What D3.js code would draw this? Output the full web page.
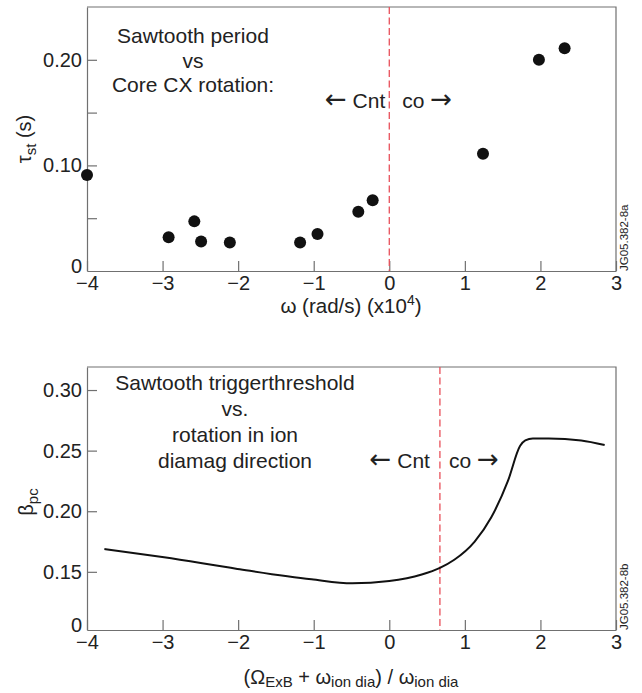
<!DOCTYPE html>
<html>
<head>
<meta charset="utf-8">
<script src="https://cdn.jsdelivr.net/npm/d3@7"></script>
<style>
  body { margin: 0; background: #fff; }
  text { font-family: "Liberation Sans", Arial, sans-serif; fill: #222; }
  .axis path, .axis line { stroke: #707070; stroke-width: 1.2; }
  .axis text { font-size: 20px; fill: #222; }
  .arrow { font-family: "DejaVu Sans", sans-serif; font-size: 26px; }
</style>
</head>
<body>
<div id="chart"></div>
<script>
"use strict";

// sawtooth period vs core CX rotation (top panel)
var omegaValues = [-4.0, -2.92, -2.58, -2.49, -2.11, -1.18, -0.95, -0.41, -0.22, 1.24, 1.98, 2.32];
var periodValues = [0.091, 0.032, 0.047, 0.028, 0.027, 0.027, 0.035, 0.056, 0.067, 0.111, 0.200, 0.211];

// trigger threshold vs normalised rotation (bottom panel)
var rotationValues = [-3.77, -2.98, -2.01, -1.03, -0.49, 0.0, 0.43, 0.67, 0.86, 1.13, 1.35, 1.57, 1.73, 1.80, 1.90, 2.11, 2.54, 2.85];
var betaValues = [0.1688, 0.1620, 0.1524, 0.1438, 0.1405, 0.1424, 0.1478, 0.1533, 0.1600, 0.1750, 0.1950, 0.2250, 0.2538, 0.2584, 0.2600, 0.2600, 0.2584, 0.2546];

var xTicks = [-4, -3, -2, -1, 0, 1, 2, 3];
var topYTicks = [0, 0.05, 0.10, 0.15, 0.20];
var topYLabels = { "0": "0", "0.1": "0.10", "0.2": "0.20" };
var bottomYTicks = [0.15, 0.20, 0.25, 0.30];

var width = 642, height = 693;
var svg = d3.select("#chart").append("svg")
    .attr("width", width)
    .attr("height", height);

var left = 87, right = 616;

// draw the frame, axes and cnt/co marker of one panel
function drawPanel(top, bottom, yDomain, yTicks, yFormat, zeroValue, dashX, tag) {
    var x = d3.scaleLinear().domain([-4, 3]).range([left, right]);
    var y = d3.scaleLinear().domain(yDomain).range([bottom, top]);

    var g = svg.append("g");

    g.append("g")
        .attr("class", "axis")
        .attr("transform", "translate(0," + bottom + ")")
        .call(d3.axisBottom(x).tickValues(xTicks).tickFormat(d3.format("d"))
            .tickSize(-10).tickSizeOuter(0).tickPadding(5));

    var yAxis = g.append("g")
        .attr("class", "axis")
        .attr("transform", "translate(" + left + ",0)")
        .call(d3.axisLeft(y).tickValues(yTicks).tickFormat(yFormat)
            .tickSize(-10).tickSizeOuter(0).tickPadding(5));

    // the "0" label sits a little above the corner
    var zeroTick = yAxis.selectAll(".tick").filter(function (d) { return d === zeroValue; });
    zeroTick.select("text").attr("dy", "0.08em");
    zeroTick.select("line").remove();

    // top and right frame lines
    g.append("path")
        .attr("d", "M" + left + "," + top + "H" + right + "V" + bottom)
        .attr("fill", "none")
        .attr("stroke", "#707070")
        .attr("stroke-width", 1.2);

    // co / counter rotation boundary
    g.append("line")
        .attr("x1", x(dashX)).attr("x2", x(dashX))
        .attr("y1", top).attr("y2", bottom)
        .attr("stroke", "#e8505a")
        .attr("stroke-width", 1.3)
        .attr("stroke-dasharray", "7,3.5");

    g.append("text")
        .attr("transform", "translate(628," + bottom + ") rotate(-90)")
        .style("font-size", "11.5px")
        .text(tag);

    return { x: x, y: y, g: g };
}

function drawDirections(g, xPos, yPos, gapLeft, gapRight) {
    var cnt = g.append("text")
        .attr("x", xPos - gapLeft).attr("y", yPos)
        .attr("text-anchor", "end")
        .style("font-size", "21px");
    cnt.append("tspan").attr("class", "arrow").text("\u2190");
    cnt.append("tspan").text(" Cnt");

    var co = g.append("text")
        .attr("x", xPos + gapRight).attr("y", yPos)
        .style("font-size", "21px");
    co.append("tspan").text("co ");
    co.append("tspan").attr("class", "arrow").text("\u2192");
}

// ---- top panel ----
var topPanel = drawPanel(7, 271, [0, 0.25], topYTicks,
    function (d) { return topYLabels[String(+d.toFixed(2))] || ""; }, 0, 0, "JG05.382-8a");

topPanel.g.append("g")
    .selectAll("circle")
    .data(omegaValues)
    .enter()
    .append("circle")
    .attr("cx", function (d) { return topPanel.x(d); })
    .attr("cy", function (d, i) { return topPanel.y(periodValues[i]); })
    .attr("r", 6)
    .attr("fill", "#111");

var topNote = ["Sawtooth period", "vs", "Core CX rotation:"];
topPanel.g.append("g")
    .selectAll("text")
    .data(topNote)
    .enter()
    .append("text")
    .attr("x", 193)
    .attr("y", function (d, i) { return 43 + i * 24.5; })
    .attr("text-anchor", "middle")
    .style("font-size", "21px")
    .text(function (d) { return d; });

drawDirections(topPanel.g, topPanel.x(0), 108, 4, 13);

var topXLabel = topPanel.g.append("text")
    .attr("x", 351).attr("y", 313)
    .attr("text-anchor", "middle")
    .style("font-size", "20.5px");
topXLabel.append("tspan").text("\u03c9 (rad/s) (x10");
topXLabel.append("tspan").attr("dy", -8).style("font-size", "14px").text("4");
topXLabel.append("tspan").attr("dy", 8).text(")");

var topYLabel = topPanel.g.append("text")
    .attr("transform", "translate(31,139) rotate(-90)")
    .attr("text-anchor", "middle")
    .style("font-size", "20px");
topYLabel.append("tspan").text("\u03c4");
topYLabel.append("tspan").attr("dy", 5).style("font-size", "15px").text("st");
topYLabel.append("tspan").attr("dy", -5).text(" (s)");

// ---- bottom panel ----
var bottomDomain = [0.102, 0.319];
var bottomPanel = drawPanel(367, 630, bottomDomain, [bottomDomain[0]].concat(bottomYTicks),
    function (d) { return d === bottomDomain[0] ? "0" : d3.format(".2f")(d); },
    bottomDomain[0], 0.67, "JG05.382-8b");

var line = d3.line()
    .x(function (d) { return bottomPanel.x(d); })
    .y(function (d, i) { return bottomPanel.y(betaValues[i]); })
    .curve(d3.curveMonotoneX);

bottomPanel.g.append("path")
    .datum(rotationValues)
    .attr("d", line)
    .attr("fill", "none")
    .attr("stroke", "#111")
    .attr("stroke-width", 2);

var bottomNote = ["Sawtooth triggerthreshold", "vs.", "rotation in ion", "diamag direction"];
bottomPanel.g.append("g")
    .selectAll("text")
    .data(bottomNote)
    .enter()
    .append("text")
    .attr("x", 235)
    .attr("y", function (d, i) { return 390 + i * 26; })
    .attr("text-anchor", "middle")
    .style("font-size", "21px")
    .text(function (d) { return d; });

drawDirections(bottomPanel.g, bottomPanel.x(0.67), 468, 10, 9);

var bottomXLabel = bottomPanel.g.append("text")
    .attr("x", 351).attr("y", 684)
    .attr("text-anchor", "middle")
    .style("font-size", "20px");
bottomXLabel.append("tspan").text("(\u03a9");
bottomXLabel.append("tspan").attr("dy", 3).style("font-size", "15px").text("ExB");
bottomXLabel.append("tspan").attr("dy", -3).text(" + \u03c9");
bottomXLabel.append("tspan").attr("dy", 3).style("font-size", "15px").text("ion dia");
bottomXLabel.append("tspan").attr("dy", -3).text(") / \u03c9");
bottomXLabel.append("tspan").attr("dy", 3).style("font-size", "15px").text("ion dia");

var bottomYLabel = bottomPanel.g.append("text")
    .attr("transform", "translate(33,502) rotate(-90)")
    .attr("text-anchor", "middle")
    .style("font-size", "20px");
bottomYLabel.append("tspan").text("\u03b2");
bottomYLabel.append("tspan").attr("dy", 5).style("font-size", "15px").text("pc");
</script>
</body>
</html>
